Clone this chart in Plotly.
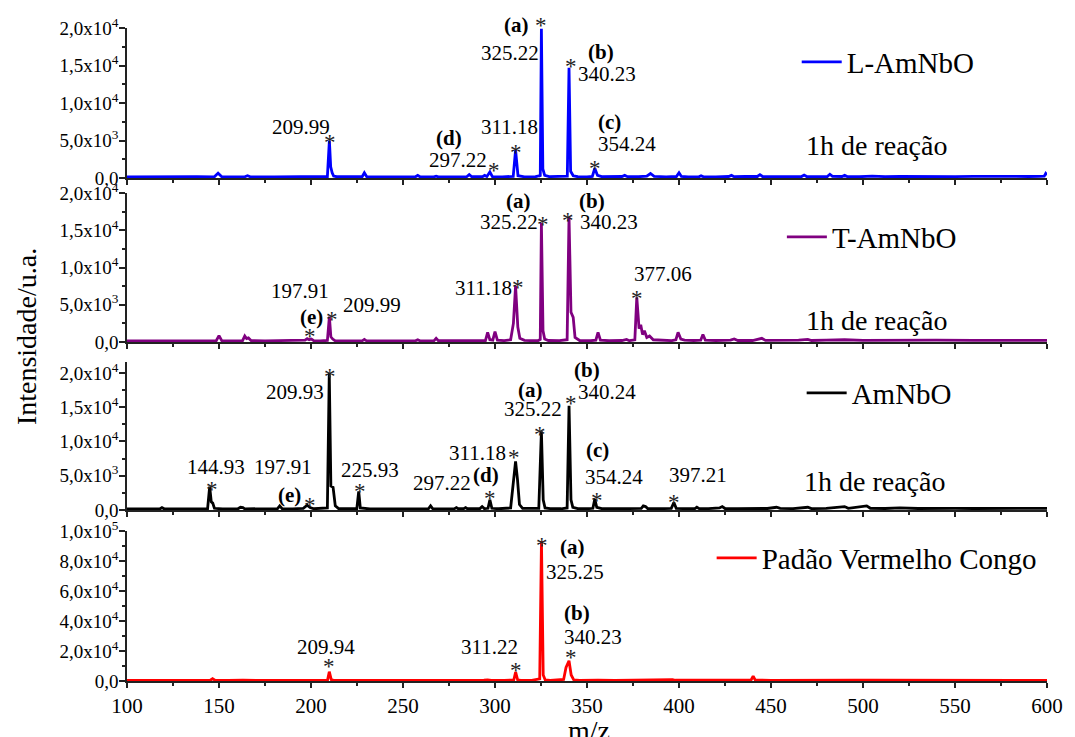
import plotly.graph_objects as go

SERIF = "Liberation Serif"

# ---------------------------------------------------------------- spectra
# (m/z, intensity) pairs for each mass spectrum
L_AMNBO = [
    (100, 150), (112, 180), (125, 140), (138, 170), (147.5, 160), (149.5, 650),
    (151.5, 170), (160, 150), (164, 160), (165.5, 300), (167, 160), (180, 150),
    (192, 190), (200, 150), (206, 180), (208.9, 200), (209.99, 5000), (210.7, 1500),
    (211.5, 700), (212.3, 250), (214, 170), (222, 150), (227.8, 170), (229, 700),
    (230.3, 170), (240, 150), (250, 170), (256.8, 160), (258, 350), (259.2, 160),
    (266.8, 150), (268, 250), (269.2, 150), (277, 170), (284.6, 170), (286, 450),
    (287.4, 170), (293.2, 170), (294.4, 350), (295.6, 200), (297.22, 800), (298.6, 180),
    (304, 150), (309.9, 220), (311.18, 3700), (312.5, 300), (316, 160), (322, 170),
    (324.2, 300), (324.6, 200), (325.22, 19900), (326.0, 1200), (327, 350), (329.5, 180),
    (334, 170), (336.2, 220), (337.6, 180), (339.3, 250), (340.23, 14700), (341.1, 900),
    (342.5, 300), (345, 170), (350, 150), (352.9, 200), (354.24, 1300), (355.7, 350),
    (358, 180), (363, 150), (369, 200), (370.5, 350), (372, 180), (378, 170),
    (382.5, 250), (384.5, 600), (386.5, 230), (393, 160), (398.6, 200), (400, 700),
    (401.3, 200), (405, 160), (410.8, 160), (412, 300), (413.3, 160), (420, 150),
    (427, 200), (428.5, 350), (430, 170), (436, 200), (442.6, 200), (444, 450),
    (445.4, 200), (452, 180), (458, 220), (462, 170), (466.6, 200), (468, 400),
    (469.4, 200), (475, 180), (480.6, 200), (482, 500), (483.4, 220), (488.6, 200),
    (490, 350), (491.4, 190), (498, 170), (505, 250), (512, 180), (520, 220),
    (530, 180), (540, 230), (550, 190), (560, 220), (570, 180), (580, 230),
    (590, 200), (596, 220), (598.5, 250), (599.3, 600), (600, 400),
]

T_AMNBO = [
    (100, 150), (115, 160), (130, 150), (140, 170), (148.5, 170), (150, 850),
    (151.5, 180), (160, 160), (162.8, 180), (164, 800), (165, 450), (166, 550),
    (167.5, 180), (175, 150), (185, 180), (195, 170), (196.8, 250), (197.91, 450),
    (199, 300), (200.2, 400), (201.5, 180), (205, 160), (208.9, 200), (209.99, 3400),
    (210.8, 700), (211.8, 400), (213, 180), (220, 150), (227.8, 160), (229, 350),
    (230.2, 160), (240, 150), (248, 170), (256.8, 160), (258, 300), (259.2, 160),
    (266.8, 160), (268, 500), (269.2, 170), (278, 160), (287, 180), (294.8, 200),
    (296, 1300), (297.2, 300), (298.8, 250), (300, 1400), (301.3, 250), (305, 180),
    (308.5, 300), (310, 2500), (311.18, 7500), (312.4, 2000), (313.5, 500), (316, 220),
    (320, 180), (323.5, 200), (324.6, 350), (325.22, 16000), (326.1, 1500), (327, 400),
    (329, 200), (335, 180), (339.2, 300), (340.23, 16800), (341.3, 4000), (342.5, 3300),
    (343.5, 600), (346, 200), (352, 170), (354.8, 250), (356, 1300), (357.3, 250),
    (362, 170), (369, 200), (371.5, 350), (373, 180), (376, 300), (377.06, 6000),
    (378.3, 1800), (379.2, 2300), (380.2, 1000), (381.2, 1500), (382.5, 600), (384, 800),
    (386, 300), (392, 200), (396, 180), (398.3, 300), (399.5, 1300), (401, 400),
    (403, 250), (408, 200), (411.8, 250), (413, 1000), (414.3, 250), (420, 200),
    (428, 250), (430, 400), (432, 200), (440, 200), (445, 500), (447, 220),
    (455, 200), (465, 250), (470, 350), (472, 200), (480, 250), (490, 300),
    (500, 220), (510, 250), (520, 200), (540, 250), (560, 220), (580, 250), (600, 220),
]

AMNBO = [
    (100, 150), (110, 170), (118, 180), (119, 350), (120.2, 170), (130, 150),
    (140, 160), (143.8, 200), (144.93, 3400), (145.8, 1200), (146.6, 1000), (147.5, 250),
    (152, 160), (160.3, 180), (161.7, 400), (163, 350), (164, 170), (175, 160),
    (181.8, 200), (183, 600), (184.3, 200), (190, 170), (195.8, 250), (197.91, 700),
    (199.5, 350), (201.5, 180), (204, 200), (205.5, 250), (208.9, 300), (209.93, 20000),
    (210.8, 3500), (212, 3300), (213.2, 600), (215, 200), (220, 160), (224.9, 200),
    (225.93, 2700), (226.8, 300), (232, 160), (240, 150), (250, 170), (257, 160),
    (263.8, 180), (265, 600), (266.2, 180), (272, 160), (278, 200), (279, 350),
    (280, 180), (283, 200), (284, 350), (285, 180), (291.8, 200), (293, 500),
    (294.2, 200), (296.2, 250), (297.22, 1500), (298.3, 250), (302, 180), (308.5, 300),
    (310, 4000), (311.18, 7100), (312.2, 4500), (313.3, 800), (315, 250), (320, 200),
    (323.8, 250), (325.22, 11500), (326.2, 1500), (327.2, 300), (330, 200), (336, 180),
    (339.2, 300), (340.24, 15200), (341.3, 1500), (342.3, 400), (345, 200), (350, 180),
    (353.2, 250), (354.24, 1600), (355.3, 400), (358, 200), (365, 180), (372, 200),
    (379.5, 250), (380.6, 600), (381.8, 500), (383, 200), (390, 180), (395.8, 250),
    (397.21, 1100), (398.5, 250), (404, 180), (408.6, 200), (409.7, 400), (411, 200),
    (416, 200), (422, 300), (423.5, 500), (425, 220), (432, 200), (440, 250),
    (448, 220), (453, 400), (455, 230), (462, 200), (470, 400), (472, 200),
    (480, 250), (490, 500), (492, 250), (502, 600), (504, 250), (512, 220),
    (520, 300), (530, 220), (540, 280), (550, 250), (560, 220), (570, 260),
    (580, 240), (590, 250), (600, 230),
]

VERMELHO_CONGO = [
    (100, 400), (120, 450), (140, 400), (145.3, 500), (146.5, 1500), (147.8, 500),
    (155, 400), (160, 600), (161.5, 900), (163, 500), (175, 400), (190, 450),
    (200, 400), (209, 600), (209.94, 6200), (211, 900), (212.3, 450), (225, 400),
    (240, 450), (260, 400), (280, 450), (294, 500), (296, 800), (298, 450),
    (305, 400), (310.2, 700), (311.22, 6000), (312.3, 800), (314, 450), (320, 400),
    (324.3, 1500), (325.25, 93300), (326.2, 4000), (327.3, 700), (330, 450), (337.3, 1000),
    (338.6, 9000), (340.23, 13500), (341.4, 4000), (342.8, 800), (346, 450), (352.8, 500),
    (354.5, 900), (356, 500), (365, 450), (372, 600), (380, 500), (388, 500),
    (395, 600), (396.5, 900), (398, 500), (410, 450), (425, 500), (439.2, 700),
    (440.3, 3300), (441.4, 700), (450, 450), (460, 500), (470, 550), (479, 600),
    (481, 900), (483, 550), (490, 550), (494, 900), (496, 550), (505, 500),
    (520, 450), (540, 500), (560, 450), (580, 450), (600, 450),
]

SERIES_NAMES = ["L-AmNbO", "T-AmNbO", "AmNbO", "Padão Vermelho Congo"]
SERIES_DATA = [L_AMNBO, T_AMNBO, AMNBO, VERMELHO_CONGO]
SERIES_COLORS = ["#0000ff", "#800080", "#000000", "#ff0000"]

# axis ticks
X_TICKS = [100, 150, 200, 250, 300, 350, 400, 450, 500, 550, 600]
X_MINOR = [125, 175, 225, 275, 325, 375, 425, 475, 525, 575]
Y_TICKS_SMALL = [0, 5000, 10000, 15000, 20000]
Y_TEXT_SMALL = ["0,0", "5,0x10<sup>3</sup>", "1,0x10<sup>4</sup>",
                "1,5x10<sup>4</sup>", "2,0x10<sup>4</sup>"]
Y_MINOR_SMALL = [2500, 7500, 12500, 17500]
Y_TICKS_BIG = [0, 20000, 40000, 60000, 80000, 100000]
Y_TEXT_BIG = ["0,0", "2,0x10<sup>4</sup>", "4,0x10<sup>4</sup>",
              "6,0x10<sup>4</sup>", "8,0x10<sup>4</sup>", "1,0x10<sup>5</sup>"]
Y_MINOR_BIG = [10000, 30000, 50000, 70000, 90000]

# peak markers: (panel, m/z, intensity)
STAR_PEAKS = [
    (1, 209.99, 5000), (1, 297.22, 800), (1, 311.18, 3700), (1, 325.22, 19900),
    (1, 340.23, 14700), (1, 354.24, 1300),
    (2, 197.91, 450), (2, 209.99, 3400), (2, 311.18, 7500), (2, 325.22, 16000),
    (2, 340.23, 16800), (2, 377.06, 6000),
    (3, 144.93, 3400), (3, 197.91, 700), (3, 209.93, 20000), (3, 225.93, 2700),
    (3, 297.22, 1500), (3, 311.18, 7100), (3, 325.22, 11500), (3, 340.24, 15200),
    (3, 354.24, 1600), (3, 397.21, 1100),
    (4, 209.94, 6200), (4, 311.22, 6000), (4, 325.25, 93300), (4, 340.23, 13500),
]
# gap (px) between each peak top and its star, and a small sideways nudge
STAR_LIFT = [3, 7, 3, 8, 6, 5,
             7, 2, 4, 3, 1, 4,
             2, 5, 1, 5, 6, 9, 2, 7, 4, 5,
             10, 7, 1, 8]
STAR_NUDGE = [1, 4, 0, 0, 2, 0,
              3, 3, 2, 2, -1, 0,
              2, 3, 1, 1, 0, -2, -1, 2, 2, 0,
              0, 0, 1, 2]

# peak labels: (text, x px, y px, bold)
PEAK_LABELS = [
    ("209.99", 303, 127, False), ("(d)", 453, 138, True), ("297.22", 462, 160, False),
    ("311.18", 514, 127, False), ("(a)", 521, 25, True), ("325.22", 514, 53, False),
    ("(b)", 606, 52, True), ("340.23", 612, 74, False), ("(c)", 615, 122, True),
    ("354.24", 632, 144, False),
    ("197.91", 302, 291, False), ("(e)", 313, 317, True), ("209.99", 375, 305, False),
    ("311.18", 487, 288, False), ("(a)", 523, 201, True), ("325.22", 513, 222, False),
    ("(b)", 597, 201, True), ("340.23", 614, 222, False), ("377.06", 669, 274, False),
    ("144.93", 217, 467, False), ("197.91", 285, 467, False), ("(e)", 291, 495, True),
    ("209.93", 297, 392, False), ("225.93", 373, 470, False), ("297.22", 445, 483, False),
    ("(d)", 490, 475, True), ("311.18", 481, 453, False), ("(a)", 535, 390, True),
    ("325.22", 537, 409, False), ("(b)", 592, 370, True), ("340.24", 612, 392, False),
    ("(c)", 603, 450, True), ("354.24", 619, 477, False), ("397.21", 704, 475, False),
    ("209.94", 328, 647, False), ("311.22", 493, 647, False), ("(a)", 577, 547, True),
    ("325.25", 580, 572, False), ("(b)", 582, 613, True), ("340.23", 598, 637, False),
]
REACTION_NOTES = [("1h de reação", 885, 145), ("1h de reação", 885, 320),
                  ("1h de reação", 883, 482)]
# legend text start (px) and centre line (px)
LEGEND_SPOTS = [(848, 62), (833, 237), (853, 393), (762, 558)]

# ---------------------------------------------------------------- geometry
W, H = 1075, 737
ML, MR, MT, MB = 127, 18, 28, 56
PW, PH = W - ML - MR, H - MT - MB
BOTTOM = H - MB


def paper_x(px):
    return (px - ML) / PW


def paper_y(py):
    return (BOTTOM - py) / PH


# panel extents (top px, bottom px) and intensity ranges
PANEL_PX = [(28, 178), (193, 342), (362, 510), (531, 681)]
PANEL_RANGE = [[0, 20000], [0, 20000], [0, 21600], [0, 100000]]

fig = go.Figure()
for i, (name, pts, color) in enumerate(zip(SERIES_NAMES, SERIES_DATA, SERIES_COLORS)):
    k = "" if i == 0 else str(i + 1)
    fig.add_trace(go.Scatter(
        x=[p[0] for p in pts], y=[p[1] for p in pts], mode="lines", name=name,
        line=dict(color=color, width=2.8), xaxis="x" + k, yaxis="y" + k,
        legend="legend" + k, showlegend=True,
    ))

layout = dict(
    width=W, height=H, margin=dict(l=ML, r=MR, t=MT, b=MB),
    paper_bgcolor="white", plot_bgcolor="white", showlegend=True,
    font=dict(family=SERIF, color="black"),
)

axis_line = dict(showline=True, linecolor="#222222", linewidth=1.5,
                 showgrid=False, zeroline=False, ticks="outside",
                 tickcolor="#222222", tickwidth=1.5)

for i in range(4):
    k = "" if i == 0 else str(i + 1)
    top_px, bot_px = PANEL_PX[i]
    big = i == 3
    layout["yaxis" + k] = dict(
        axis_line, domain=[paper_y(bot_px), paper_y(top_px)], range=PANEL_RANGE[i],
        anchor="x" + k, ticklen=6, ticklabelstandoff=-3,
        tickvals=Y_TICKS_BIG if big else Y_TICKS_SMALL,
        ticktext=Y_TEXT_BIG if big else Y_TEXT_SMALL,
        tickfont=dict(family=SERIF, size=19, color="black"),
        minor=dict(tickvals=Y_MINOR_BIG if big else Y_MINOR_SMALL, ticklen=3,
                   tickcolor="#222222", tickwidth=1.5, ticks="outside"),
    )
    layout["xaxis" + k] = dict(
        axis_line, domain=[0, 1], range=[100, 600], anchor="y" + k, ticklen=5,
        tickvals=X_TICKS, showticklabels=big,
        tickfont=dict(family=SERIF, size=21, color="black"),
        minor=dict(tickvals=X_MINOR, ticklen=3, tickcolor="#222222",
                   tickwidth=1.5, ticks="outside"),
    )
    if i > 0:
        layout["xaxis" + k]["matches"] = "x"
    tx, ty = LEGEND_SPOTS[i]
    layout["legend" + k] = dict(
        x=paper_x(tx - 44), y=paper_y(ty), xanchor="left", yanchor="middle",
        bgcolor="rgba(0,0,0,0)", borderwidth=0, visible=True, itemwidth=40,
        font=dict(family=SERIF, size=29, color="black"),
    )

annotations = []
for (panel, mz, inten), lift, nudge in zip(STAR_PEAKS, STAR_LIFT, STAR_NUDGE):
    k = "" if panel == 1 else str(panel)
    annotations.append(dict(
        x=mz, y=inten, xref="x" + k, yref="y" + k, text="*", showarrow=False,
        xanchor="center", yanchor="middle", xshift=nudge, yshift=lift - 5,
        font=dict(family=SERIF, size=23, color="#222222"),
    ))
for text, px, py, bold in PEAK_LABELS:
    annotations.append(dict(
        x=paper_x(px), y=paper_y(py), xref="paper", yref="paper",
        text=f"<b>{text}</b>" if bold else text, showarrow=False,
        xanchor="center", yanchor="middle",
        font=dict(family=SERIF, size=21, color="black"),
    ))
for text, px, py in REACTION_NOTES:
    annotations.append(dict(
        x=paper_x(px), y=paper_y(py), xref="paper", yref="paper", text=text,
        showarrow=False, xanchor="center", yanchor="middle",
        font=dict(family=SERIF, size=28, color="black"),
    ))
# axis titles
annotations.append(dict(
    x=paper_x(25), y=paper_y(337), xref="paper", yref="paper",
    text="Intensidade/u.a.", textangle=-90, showarrow=False,
    xanchor="center", yanchor="middle",
    font=dict(family=SERIF, size=28, color="black"),
))
annotations.append(dict(
    x=paper_x(594), y=paper_y(730), xref="paper", yref="paper",
    text="m/z", showarrow=False, xanchor="center", yanchor="middle",
    font=dict(family=SERIF, size=28, color="black"),
))
layout["annotations"] = annotations

fig.update_layout(layout)
fig.write_html("out.html")
